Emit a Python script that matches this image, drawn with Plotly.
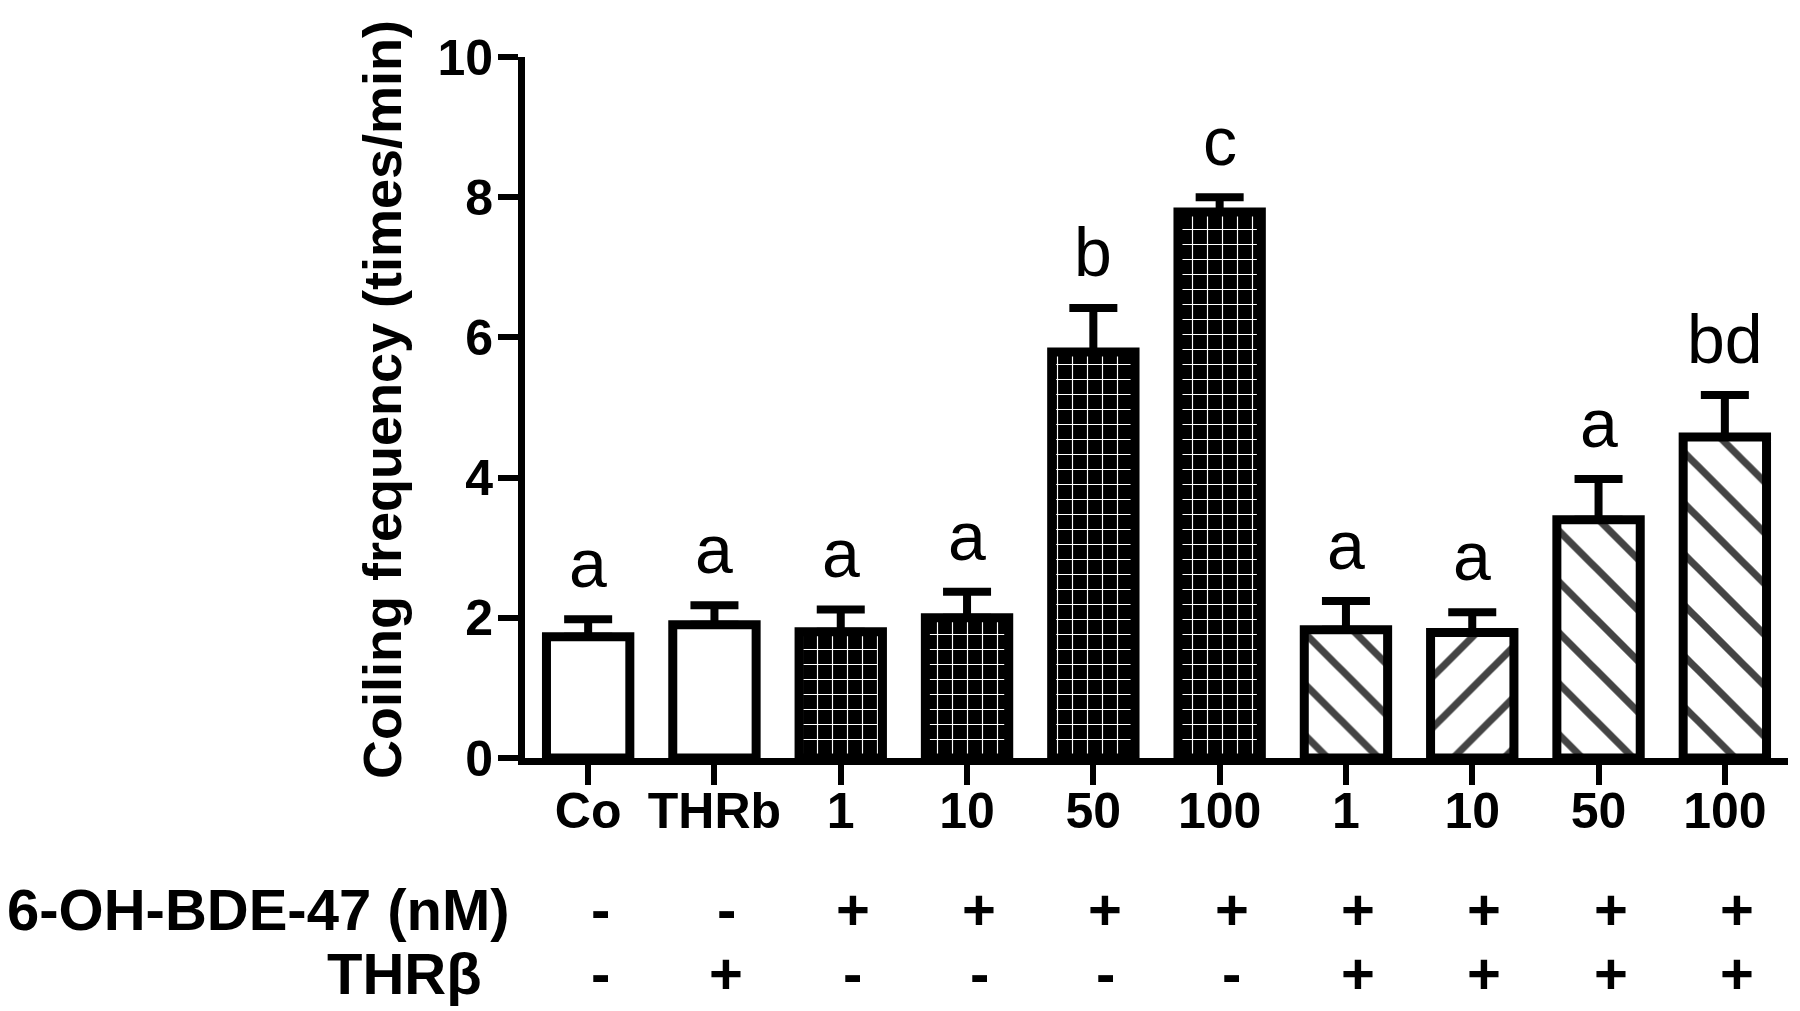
import plotly.graph_objects as go

# ---- data ----
tick_labels = ["Co", "THRb", "1", "10", "50", "100", "1", "10", "50", "100"]
means = [1.73, 1.90, 1.80, 2.00, 5.79, 7.79, 1.83, 1.79, 3.40, 4.58]
errors = [0.25, 0.28, 0.32, 0.37, 0.63, 0.21, 0.41, 0.29, 0.58, 0.60]
letters = ["a", "a", "a", "a", "b", "c", "a", "a", "a", "bd"]
bde_row = ["-", "-", "+", "+", "+", "+", "+", "+", "+", "+"]
thr_row = ["-", "+", "-", "-", "-", "-", "+", "+", "+", "+"]
groups = ["open", "open", "brick", "brick", "brick", "brick", "hatch", "hatchr", "hatch", "hatch"]

y_ticks = [0, 2, 4, 6, 8, 10]

# ---- styles per group ----
style = {
    "open":   dict(color="white", shape="", fg="black", bg="white", size=8, sol=0.1),
    "brick":  dict(color="black", shape="+", fg="white", bg="black", size=15, sol=0.15),
    "hatch":  dict(color="white", shape="\\", fg="black", bg="white", size=36, sol=0.2),
    "hatchr": dict(color="white", shape="/", fg="black", bg="white", size=36, sol=0.2),
}

xs = list(range(len(means)))
FONT = "Liberation Sans, Arial, sans-serif"

# page body has an 8px default margin: figure is drawn 8px smaller and plot area offset accordingly
W, H = 1792, 1003
L, R, T, B = 517, 12, 49, 253
PW, PH = W - L - R, H - T - B

fig = go.Figure()
fig.add_trace(go.Bar(
    x=xs, y=means, width=0.66,
    marker=dict(
        color=[style[g]["color"] for g in groups],
        line=dict(color="black", width=9),
        pattern=dict(
            shape=[style[g]["shape"] for g in groups],
            fgcolor=[style[g]["fg"] for g in groups],
            bgcolor=[style[g]["bg"] for g in groups],
            size=[style[g]["size"] for g in groups],
            solidity=[style[g]["sol"] for g in groups],
            fillmode="overlay", fgopacity=1,
        ),
    ),
    error_y=dict(type="data", symmetric=False, array=errors,
                 arrayminus=[0] * len(errors), color="black",
                 thickness=8, width=24),
    showlegend=False,
))

annotations = []
# significance letters
for i, (m, e, t) in enumerate(zip(means, errors, letters)):
    annotations.append(dict(
        x=i, y=m + e, xref="x", yref="y", text=t, showarrow=False,
        yanchor="bottom", yshift=16,
        font=dict(family=FONT, size=68, color="black")))

# treatment table
row_y = [-(901 - 750) / PH, -(965 - 750) / PH]
for ry, row in zip(row_y, [bde_row, thr_row]):
    for i, s in enumerate(row):
        annotations.append(dict(
            x=i, y=ry, xref="x", yref="paper", text=s, showarrow=False,
            xanchor="center", yanchor="middle", xshift=12,
            font=dict(family=FONT, size=58, color="black", weight="bold")))

annotations.append(dict(
    x=(504 - L) / PW, y=row_y[0], xref="paper", yref="paper",
    text="6-OH-BDE-47 (nM)", showarrow=False, xanchor="right", yanchor="middle",
    font=dict(family=FONT, size=58, color="black", weight="bold")))
annotations.append(dict(
    x=(476 - L) / PW, y=row_y[1], xref="paper", yref="paper",
    text="THRβ", showarrow=False, xanchor="right", yanchor="middle",
    font=dict(family=FONT, size=58, color="black", weight="bold")))

# y-axis title
annotations.append(dict(
    x=(374 - L) / PW, y=(750 - 392) / PH, xref="paper", yref="paper",
    text="Coiling frequency (times/min)", textangle=-90, showarrow=False,
    xanchor="center", yanchor="middle",
    font=dict(family=FONT, size=54, color="black", weight="bold")))

fig.update_layout(
    width=W, height=H,
    margin=dict(l=L, r=R, t=T, b=B, autoexpand=False),
    paper_bgcolor="white", plot_bgcolor="white",
    annotations=annotations,
    xaxis=dict(
        range=[-0.5, 9.5], tickmode="array", tickvals=xs, ticktext=tick_labels,
        showline=True, linecolor="black", linewidth=7,
        ticks="outside", ticklen=20, tickwidth=6, tickcolor="black",
        showgrid=False, zeroline=False, automargin=False,
        ticklabelstandoff=-17,
        tickfont=dict(family=FONT, size=50, color="black", weight="bold"),
    ),
    yaxis=dict(
        range=[0, 10], tickmode="array", tickvals=y_ticks,
        showline=True, linecolor="black", linewidth=7,
        ticks="outside", ticklen=20, tickwidth=6, tickcolor="black",
        showgrid=False, zeroline=False, automargin=False,
        ticklabelstandoff=-5,
        tickfont=dict(family=FONT, size=50, color="black", weight="bold"),
    ),
)

fig.write_html("out.html")
